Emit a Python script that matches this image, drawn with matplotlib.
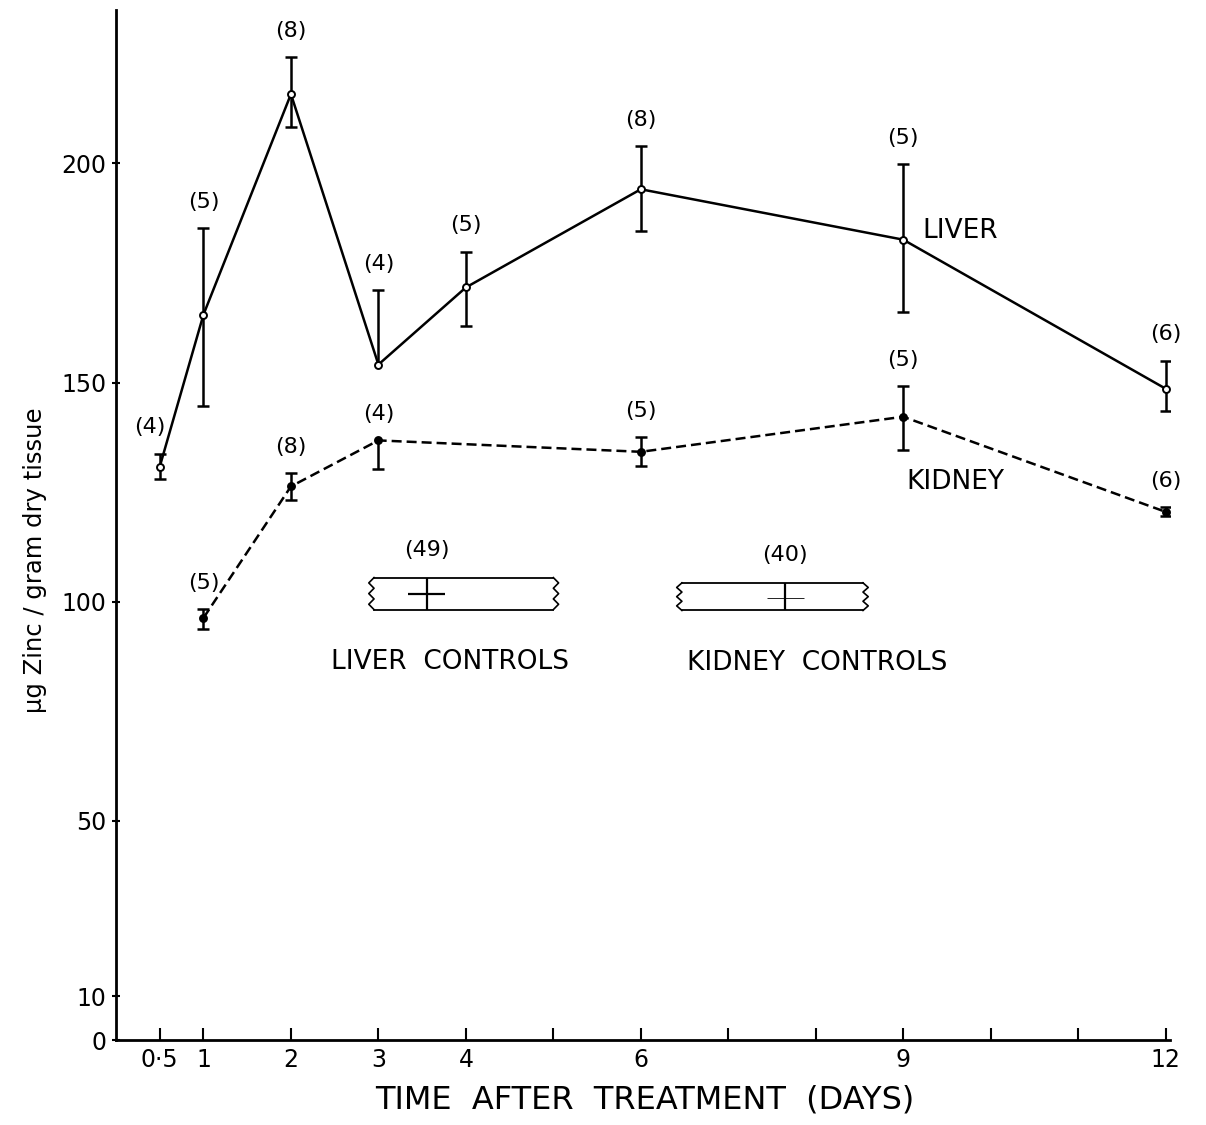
"""Zinc content of liver and kidney after treatment, redrawn from the scanned figure."""
import matplotlib
matplotlib.use("Agg")
import matplotlib.pyplot as plt
import numpy as np

# liver series (mean, upper / lower error, number of animals)
liver_days = [0.5, 1, 2, 3, 4, 6, 9, 12]
liver_mean = [130.8, 165.5, 215.8, 154.1, 171.7, 194.1, 182.6, 148.6]
liver_err_up = [3.0, 19.7, 8.4, 17.0, 8.2, 9.8, 17.2, 6.4]
liver_err_lo = [2.7, 20.8, 7.6, 0.0, 8.7, 9.6, 16.6, 5.0]
liver_n = [4, 5, 8, 4, 5, 8, 5, 6]

# kidney series
kidney_days = [1, 2, 3, 6, 9, 12]
kidney_mean = [96.3, 126.3, 136.8, 134.2, 142.2, 120.5]
kidney_err_up = [2.0, 3.0, 0.0, 3.4, 6.9, 1.0]
kidney_err_lo = [2.5, 3.0, 6.6, 3.2, 7.5, 1.0]
kidney_n = [5, 8, 4, 5, 5, 6]

# control bands (low / high of band, mean, n)
ctrl_names = ["LIVER  CONTROLS", "KIDNEY  CONTROLS"]
ctrl_n = [49, 40]
ctrl_low = [98.2, 98.0]
ctrl_high = [105.5, 104.3]
ctrl_mean = [101.8, 100.9]
ctrl_span = [(2.95, 5.0), (6.47, 8.54)]
ctrl_mark_x = [3.55, 7.65]
ctrl_label_x = [3.82, 8.02]

xticks = [0.5, 1, 2, 3, 4, 5, 6, 7, 8, 9, 10, 11, 12]
xticklabels = ["0\u00b75", "1", "2", "3", "4", "", "6", "", "", "9", "", "", "12"]
yticks = [0, 10, 50, 100, 150, 200]

LW = 1.8
FS_N = 16

fig = plt.figure(figsize=(12.06, 11.25), dpi=100)
ax = fig.add_axes([116 / 1206, 1 - 1040 / 1125, 1054 / 1206, 1030 / 1125])
ax.set_xlim(0, 12.05)
ax.set_ylim(0, 235)


def draw_series(days, mean, up, lo, ns, ls, face):
    ax.plot(days, mean, color="black", lw=LW, ls=ls, zorder=2)
    ax.plot(days, mean, ls="none", marker="o", ms=5, mfc=face, mec="black",
            mew=1.4, zorder=3)
    for x, m, u, l, n in zip(days, mean, up, lo, ns):
        ax.vlines(x, m - l, m + u, color="black", lw=1.8, zorder=2)
        if u > 0:
            ax.plot(x, m + u, marker="_", ms=8, mew=1.8, color="black")
        if l > 0:
            ax.plot(x, m - l, marker="_", ms=8, mew=1.8, color="black")
        dx = -7 if x < 1 else 0
        ax.annotate(f"({n})", (x, m + u), xytext=(dx, 19), textcoords="offset points",
                    ha="center", va="center", fontsize=FS_N)


draw_series(liver_days, liver_mean, liver_err_up, liver_err_lo, liver_n, "-", "white")
draw_series(kidney_days, kidney_mean, kidney_err_up, kidney_err_lo, kidney_n,
            (0, (4, 2)), "black")

# control bands with broken (zigzag) ends
for i in range(2):
    x0, x1 = ctrl_span[i]
    lo, hi = ctrl_low[i], ctrl_high[i]
    ax.plot([x0, x1], [hi, hi], color="black", lw=1.3)
    ax.plot([x0, x1], [lo, lo], color="black", lw=1.3)
    zy = np.linspace(lo, hi, 7)
    zx = np.array([0, -1, 0, -1, 0, -1, 0]) * 0.06
    ax.plot(x0 + zx, zy, color="black", lw=1.2)
    ax.plot(x1 - zx, zy, color="black", lw=1.2)
    xm = ctrl_mark_x[i]
    ax.vlines(xm, lo, hi, color="black", lw=1.6)
    ax.hlines(ctrl_mean[i], xm - 0.21, xm + 0.21, color="black",
              lw=1.6 if i == 0 else 0.6)
    ax.annotate(f"({ctrl_n[i]})", (xm, hi), xytext=(0, 20), textcoords="offset points",
                ha="center", va="center", fontsize=FS_N)
    ax.text(ctrl_label_x[i], lo - 12, ctrl_names[i], ha="center",
            va="center", fontsize=19)

ax.text(9.22, 184.5, "LIVER", ha="left", va="center", fontsize=19)
ax.text(9.04, 127.2, "KIDNEY", ha="left", va="center", fontsize=19)

for s in ["top", "right"]:
    ax.spines[s].set_visible(False)
for s in ["left", "bottom"]:
    ax.spines[s].set_linewidth(2.0)

ax.set_xticks(xticks)
ax.set_xticklabels(xticklabels)
ax.set_yticks(yticks)
ax.tick_params(axis="x", direction="in", length=9, width=1.5, labelsize=17, pad=6)
ax.tick_params(axis="y", direction="inout", length=6, width=1.5, labelsize=17, pad=4)

fig.text(645 / 1206, 1 - 1100 / 1125, "TIME  AFTER  TREATMENT  (DAYS)", ha="center",
         va="center", fontsize=23)
fig.text(35 / 1206, 1 - 560 / 1125, "\u00b5g Zinc / gram dry tissue", ha="center",
         va="center", rotation=90, fontsize=17.5)

fig.savefig("out.png", dpi=100)
